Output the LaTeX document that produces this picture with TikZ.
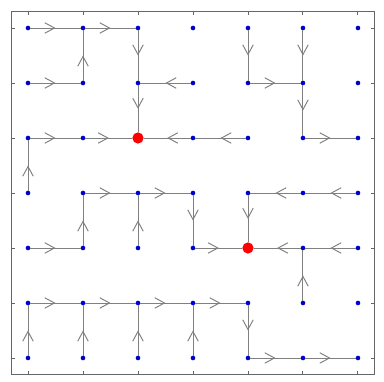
\documentclass[tikz,border=0pt]{standalone}
\usetikzlibrary{arrows.meta,decorations.markings}
\begin{document}
\begin{tikzpicture}[
    dot/.style={circle,fill=blue!80!black,inner sep=0pt,outer sep=0pt,minimum size=2.4pt},
    sink/.style={fill=red,minimum size=5.8pt},
    p22/.style={sink},
    p44/.style={sink},
    flow/.style={draw=gray,line width=0.5pt,postaction={decorate},
        decoration={markings,mark=at position 0.5 with {\arrow[gray]{Straight Barb[length=5pt,width=5.4pt]}}}},
    frame/.style={draw=black!60,line width=0.5pt}
]
\useasboundingbox (-0.509,0.509) rectangle (6.473,-6.436);

% Cadre
\draw[frame] (-0.3,0.3) rectangle (6.3,-6.3);
\foreach \k in {0,...,6}
{
    \draw[frame] (\k,0.3) -- ++(0,-0.07);
    \draw[frame] (\k,-6.3) -- ++(0,0.07);
    \draw[frame] (-0.3,-\k) -- ++(0.07,0);
    \draw[frame] (6.3,-\k) -- ++(-0.07,0);
}

% Points
\foreach \c in {0,...,6}
{
    \foreach \r in {0,...,6}
    {
        \node[dot,p\c\r/.try] (n\c\r) at (\c,-\r) {};
    }
}

% Arcs
\foreach \a/\b in {00/10,10/20,11/10,20/21,40/41,50/51,
                   01/11,31/21,41/51,21/22,51/52,
                   02/12,12/22,32/22,42/32,52/62,03/02,
                   13/23,23/33,53/43,63/53,33/34,43/44,
                   04/14,14/13,24/23,34/44,54/44,64/54,55/54,
                   05/15,15/25,25/35,35/45,45/46,
                   06/05,16/15,26/25,36/35,46/56,56/66}
{
    \draw[flow] (n\a) -- (n\b);
}

\end{tikzpicture}
\end{document}
